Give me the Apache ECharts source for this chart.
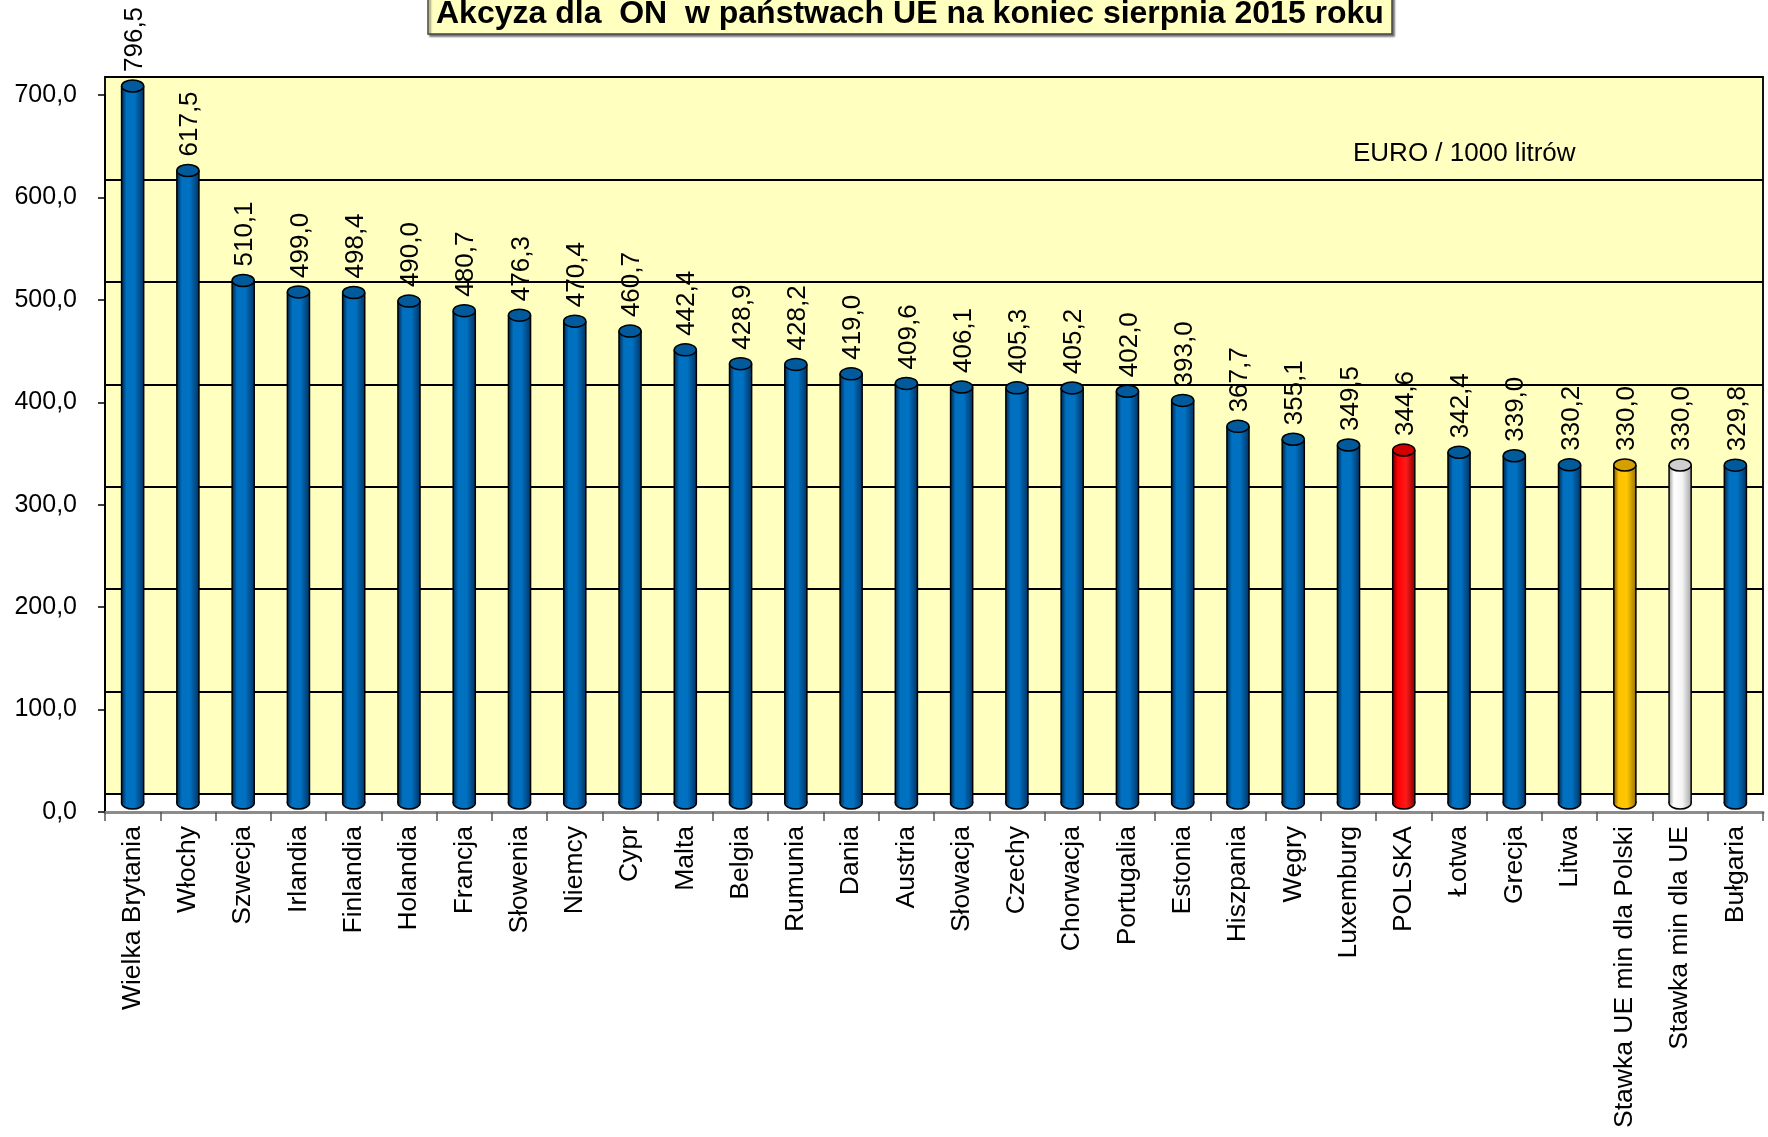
<!DOCTYPE html>
<html>
<head>
<meta charset="utf-8">
<title>Akcyza dla ON w państwach UE</title>
<script src="https://cdn.jsdelivr.net/npm/echarts@6/dist/echarts.min.js"></script>
<style>
html, body { margin: 0; padding: 0; background: #fff; }
#akcyza { width: 1768px; height: 1137px; }
</style>
</head>
<body>
<div id="akcyza"></div>
<script>
// dane: akcyza EURO / 1000 litrów
var kraje = ['Wielka Brytania', 'Włochy', 'Szwecja', 'Irlandia', 'Finlandia', 'Holandia', 'Francja', 'Słowenia',
	'Niemcy', 'Cypr', 'Malta', 'Belgia', 'Rumunia', 'Dania', 'Austria', 'Słowacja', 'Czechy', 'Chorwacja',
	'Portugalia', 'Estonia', 'Hiszpania', 'Węgry', 'Luxemburg', 'POLSKA', 'Łotwa', 'Grecja', 'Litwa',
	'Stawka UE min dla Polski', 'Stawka min dla UE', 'Bułgaria'];
var stawki = [796.5, 617.5, 510.1, 499.0, 498.4, 490.0, 480.7, 476.3,
	470.4, 460.7, 442.4, 428.9, 428.2, 419.0, 409.6, 406.1, 405.3, 405.2,
	402.0, 393.0, 367.7, 355.1, 349.5, 344.6, 342.4, 339.0, 330.2,
	330.0, 330.0, 329.8];
var osY = [0, 100, 200, 300, 400, 500, 600, 700];

// kolory walców
var kolory = {
	domyslny: { body: ['#00284f', '#0070c0', '#0070c0', '#003566'], top: '#005a9c' },
	'POLSKA': { body: ['#6a0000', '#ff0000', '#ff1a1a', '#8a0000'], top: '#d00000' },
	'Stawka UE min dla Polski': { body: ['#7a5c00', '#ffc000', '#ffc800', '#9a7200'], top: '#d49f00' },
	'Stawka min dla UE': { body: ['#9a9a9a', '#ffffff', '#f4f4f4', '#a8a8a8'], top: '#cfcfcf' }
};

function fmt(v) {
	return v.toFixed(1).replace('.', ',');
}

function walec(params, api) {
	var i = api.value(0);
	var v = api.value(1);
	var dol = api.coord([i, 0]);
	var gora = api.coord([i, v]);
	var cs = params.coordSys;
	var yTop = Math.max(gora[1], cs.y);
	var w = api.size([1, 0])[0] * 0.4;
	var x0 = dol[0] - w / 2;
	var eh = 6;
	var k = kolory[kraje[i]] || kolory.domyslny;
	var grad = new echarts.graphic.LinearGradient(0, 0, 1, 0, [
		{ offset: 0, color: k.body[0] },
		{ offset: 0.22, color: k.body[1] },
		{ offset: 0.6, color: k.body[2] },
		{ offset: 1, color: k.body[3] }
	]);
	return {
		type: 'group',
		children: [
			{ type: 'ellipse', shape: { cx: dol[0], cy: dol[1], rx: w / 2, ry: eh },
				style: { fill: grad, stroke: '#000', lineWidth: 1.5 } },
			{ type: 'rect', shape: { x: x0, y: yTop, width: w, height: dol[1] - yTop },
				style: { fill: grad } },
			{ type: 'line', shape: { x1: x0, y1: yTop, x2: x0, y2: dol[1] },
				style: { stroke: '#000', lineWidth: 1.5 } },
			{ type: 'line', shape: { x1: x0 + w, y1: yTop, x2: x0 + w, y2: dol[1] },
				style: { stroke: '#000', lineWidth: 1.5 } },
			{ type: 'ellipse', shape: { cx: dol[0], cy: yTop, rx: w / 2, ry: eh },
				style: { fill: k.top, stroke: '#000', lineWidth: 1.5 } },
			{ type: 'text', x: dol[0] + 2, y: yTop - eh - 8, rotation: Math.PI / 2,
				style: { text: fmt(v), fill: '#000', font: '26px "Liberation Sans", Arial, sans-serif',
					align: 'left', verticalAlign: 'middle' } }
		]
	};
}

var myChart = echarts.init(document.getElementById('akcyza'));

myChart.setOption({
	animation: false,
	backgroundColor: '#fff',
	textStyle: { fontFamily: '"Liberation Sans", Arial, sans-serif' },
	title: {
		text: 'Akcyza dla  ON  w państwach UE na koniec sierpnia 2015 roku',
		left: 428,
		top: -6,
		padding: [4, 8, 4, 8],
		backgroundColor: '#ffffc0',
		borderColor: '#444',
		borderWidth: 1.5,
		shadowColor: 'rgba(0,0,0,0.5)',
		shadowOffsetX: 2,
		shadowOffsetY: 2,
		shadowBlur: 2,
		textStyle: { fontSize: 32, fontWeight: 'bold', color: '#000',
			fontFamily: '"Liberation Sans Narrow", "Liberation Sans", Arial, sans-serif' }
	},
	graphic: [{
		type: 'text',
		left: 1353,
		top: 141,
		style: { text: 'EURO / 1000 litrów', fill: '#000', font: '26px "Liberation Sans", Arial, sans-serif' }
	}],
	grid: [
		// osie z opisami
		{ left: 105, right: 5, top: 95, bottom: 325 },
		// tylna ściana
		{ left: 105, right: 5, top: 77, bottom: 343, show: true, backgroundColor: '#ffffc0',
			borderColor: '#111', borderWidth: 2 },
		// walce
		{ left: 105, right: 5, top: 86, bottom: 334 }
	],
	xAxis: [
		{ gridIndex: 0, type: 'category', data: kraje,
			axisLine: { lineStyle: { color: '#8c8c8c', width: 3 } },
			axisTick: { show: true, length: 9, lineStyle: { color: '#555', width: 1.5 } },
			axisLabel: { interval: 0, rotate: 90, margin: 14, fontSize: 26.5, color: '#000' } },
		{ gridIndex: 1, type: 'category', data: kraje, show: false },
		{ gridIndex: 2, type: 'category', data: kraje, show: false }
	],
	yAxis: [
		{ gridIndex: 0, type: 'value', min: osY[0], max: osY[osY.length - 1], interval: 100,
			axisLine: { show: true, lineStyle: { color: '#000', width: 2 } },
			axisTick: { show: true, length: 7, lineStyle: { color: '#000', width: 1.5 } },
			splitLine: { show: false },
			axisLabel: { margin: 28, fontSize: 25, color: '#000', formatter: fmt } },
		{ gridIndex: 1, type: 'value', min: osY[0], max: osY[osY.length - 1], interval: 100,
			axisLine: { show: false }, axisTick: { show: false }, axisLabel: { show: false },
			splitLine: { show: true, lineStyle: { color: '#000', width: 2 } } },
		{ gridIndex: 2, type: 'value', min: osY[0], max: osY[osY.length - 1], interval: 100, show: false,
			splitLine: { show: false } }
	],
	series: [{
		name: 'Akcyza',
		type: 'custom',
		xAxisIndex: 2,
		yAxisIndex: 2,
		renderItem: walec,
		data: stawki.map(function (v, i) { return [i, v]; })
	}]
});
</script>
</body>
</html>
